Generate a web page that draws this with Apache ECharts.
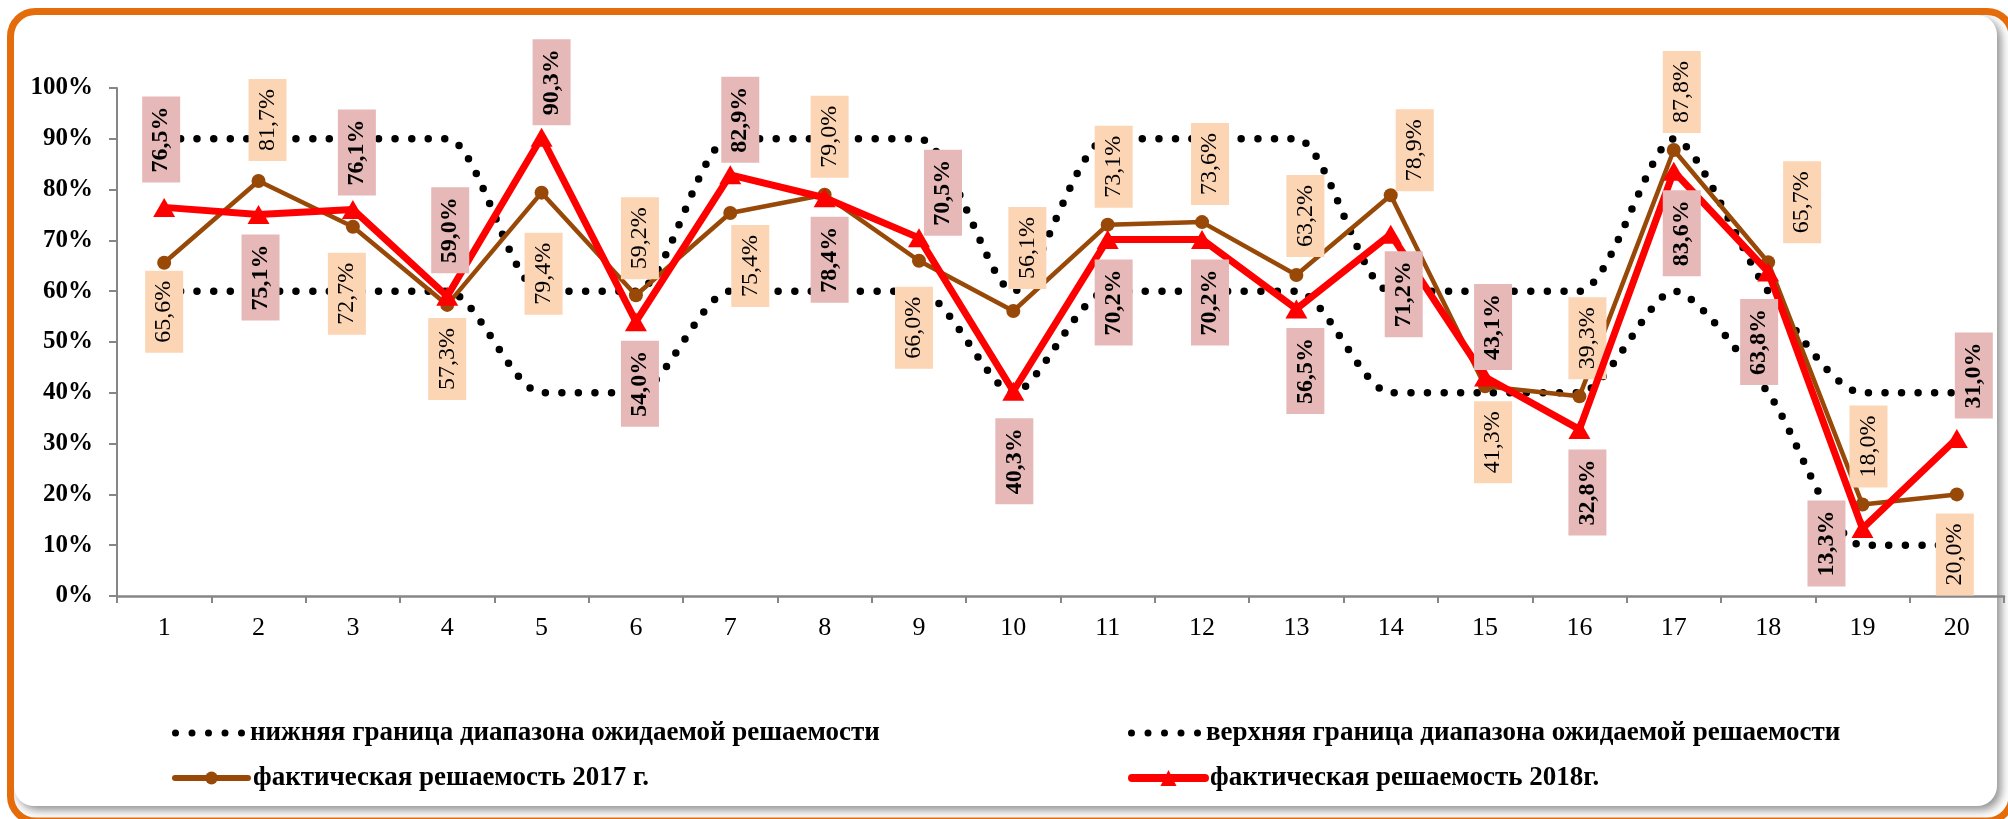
<!DOCTYPE html>
<html>
<head>
<meta charset="utf-8">
<script src="https://cdn.jsdelivr.net/npm/echarts@6/dist/echarts.min.js"></script>
<style>
  html, body { margin: 0; padding: 0; background: #ffffff; }
  #chart { width: 2008px; height: 819px; }
</style>
</head>
<body>
<div id="chart"></div>
<script>
// Task numbers along the horizontal axis
const tasks = ['1','2','3','4','5','6','7','8','9','10','11','12','13','14','15','16','17','18','19','20'];

// Expected solvability range, % (lower and upper bounds)
const lowerBound = [60, 60, 60, 60, 40, 40, 60, 60, 60, 40, 60, 60, 60, 40, 40, 40, 60, 40, 10, 10];
const upperBound = [90, 90, 90, 90, 60, 60, 90, 90, 90, 60, 90, 90, 90, 60, 60, 60, 90, 60, 40, 40];

// Actual solvability, %
const solved2017 = [65.6, 81.7, 72.7, 57.3, 79.4, 59.2, 75.4, 79.0, 66.0, 56.1, 73.1, 73.6, 63.2, 78.9, 41.3, 39.3, 87.8, 65.7, 18.0, 20.0];
const solved2018 = [76.5, 75.1, 76.1, 59.0, 90.3, 54.0, 82.9, 78.4, 70.5, 40.3, 70.2, 70.2, 56.5, 71.2, 43.1, 32.8, 83.6, 63.8, 13.3, 31.0];

// Value axis ticks, %
const yMin = 0, yMax = 100, yStep = 10;

// Legend captions
const names = {
  lower: 'нижняя граница диапазона ожидаемой решаемости',
  upper: 'верхняя граница диапазона ожидаемой решаемости',
  y2017: 'фактическая решаемость 2017 г.',
  y2018: 'фактическая решаемость 2018г.'
};

// Placement of each value box: screen shift [right, down] in px of the box centre from its point
const shift2017 = [[0,49],[9,-61],[-6,67],[0,54],[2,81],[4,-57],[20,53],[5,-58],[-5,67],[14,-63],
                   [6,-58],[8,-58],[9,-59],[24,-45],[8,56],[8,-58],[8,-58],[34,-60],[6,-58],[-2,60]];
const shift2018 = [[-3,-68],[2,63],[4,-57],[3,-66],[10,-55],[4,62],[10,-55],[5,62],[24,-45],[1,70],
                   [6,63],[8,63],[9,62],[13,60],[8,-50],[8,63],[8,62],[-9,70],[-36,15],[17,-63]];

const SERIF = '"Liberation Serif", "Times New Roman", serif';
const fmtPct = v => v.toFixed(1).replace('.', ',') + '%';

// Labels are rotated 90deg about the point, so the offset is given in the rotated frame
const rotatedOffset = ([dx, dy]) => [-dy, dx];

function labelledData(values, shifts) {
  return values.map((v, i) => ({ value: v, label: { offset: rotatedOffset(shifts[i]) } }));
}

// Five round dots used as the legend mark of the range lines
function dotsPath() {
  const r = 3.5, step = 16.5;
  let d = '';
  for (let k = 0; k < 5; k++) {
    const cx = r + k * step;
    d += `M${cx - r},4a${r},${r} 0 1,0 ${2 * r},0a${r},${r} 0 1,0 ${-2 * r},0Z`;
  }
  return 'path://' + d;
}

const dotted = { color: '#000000', width: 7.5, type: [0, 16.5], cap: 'round' };

const legendText = { fontFamily: SERIF, fontSize: 27, fontWeight: 'bold', color: '#000000', lineHeight: 30 };

function legendAt(name, left, top, extra) {
  return Object.assign({
    data: [name], left: left, top: top, orient: 'horizontal', padding: 0,
    itemGap: 0, selectedMode: false, textStyle: legendText
  }, extra);
}

const chart = echarts.init(document.getElementById('chart'), null, { renderer: 'canvas' });

const option = {
  backgroundColor: '#ffffff',
  animation: false,
  grid: { left: 117, right: 4, top: 88, bottom: 223, containLabel: false },
  graphic: [
    {
      type: 'rect', z: -10, silent: true,
      shape: { x: 14, y: 15, width: 1983, height: 791, r: 20 },
      style: { fill: '#ffffff', shadowBlur: 10, shadowOffsetX: 4, shadowOffsetY: 4, shadowColor: 'rgba(0,0,0,0.45)' }
    },
    {
      type: 'rect', z: 100, silent: true,
      shape: { x: 10.5, y: 11.5, width: 2001.5, height: 809.5, r: 25 },
      style: { fill: 'none', stroke: '#E46C0A', lineWidth: 7 }
    }
  ],
  legend: [
    legendAt(names.lower, 172, 718, { itemWidth: 73, itemHeight: 7, data: [{ name: names.lower, icon: dotsPath() }] }),
    legendAt(names.upper, 1128, 718, { itemWidth: 73, itemHeight: 7, data: [{ name: names.upper, icon: dotsPath() }] }),
    legendAt(names.y2017, 172, 763, { itemWidth: 73, itemHeight: 16, lineStyle: { width: 6, cap: 'round' } }),
    legendAt(names.y2018, 1128, 763, { itemWidth: 73, itemHeight: 20, lineStyle: { width: 8, cap: 'round' } })
  ],
  xAxis: {
    type: 'category',
    data: tasks,
    boundaryGap: true,
    axisLine: { lineStyle: { color: '#868686', width: 2.5 } },
    axisTick: { show: true, length: 7, interval: 0, lineStyle: { color: '#868686', width: 2 } },
    axisLabel: { fontFamily: SERIF, fontSize: 26, color: '#000000', margin: 19, interval: 0 },
    splitLine: { show: false }
  },
  yAxis: {
    type: 'value',
    min: yMin, max: yMax, interval: yStep,
    axisLine: { show: true, lineStyle: { color: '#868686', width: 2 } },
    axisTick: { show: true, length: 8, lineStyle: { color: '#868686', width: 2 } },
    axisLabel: { fontFamily: SERIF, fontSize: 25, fontWeight: 'bold', color: '#000000', margin: 24, formatter: '{value}%' },
    splitLine: { show: false }
  },
  series: [
    {
      name: names.lower, type: 'line', data: lowerBound, z: 2,
      smooth: 0.25, symbol: 'none', silent: true,
      itemStyle: { color: '#000000' }, lineStyle: dotted
    },
    {
      name: names.upper, type: 'line', data: upperBound, z: 2,
      smooth: 0.25, symbol: 'none', silent: true,
      itemStyle: { color: '#000000' }, lineStyle: dotted
    },
    {
      name: names.y2017, type: 'line', data: labelledData(solved2017, shift2017), z: 3,
      symbol: 'circle', symbolSize: 14,
      itemStyle: { color: '#984807' },
      lineStyle: { color: '#984807', width: 4.5 },
      label: {
        show: true, position: 'inside', rotate: 90,
        formatter: p => fmtPct(p.value),
        fontFamily: SERIF, fontSize: 24, fontWeight: 'normal', color: '#000000',
        lineHeight: 24, backgroundColor: '#FCD5B5', padding: [7, 10],
        textBorderWidth: 0
      }
    },
    {
      name: names.y2018, type: 'line', data: labelledData(solved2018, shift2018), z: 4,
      symbol: 'triangle', symbolSize: [22, 19],
      itemStyle: { color: '#FF0000' },
      lineStyle: { color: '#FF0000', width: 7 },
      label: {
        show: true, position: 'inside', rotate: 90,
        formatter: p => fmtPct(p.value),
        fontFamily: SERIF, fontSize: 24, fontWeight: 'bold', color: '#000000',
        lineHeight: 24, backgroundColor: '#E6B9B8', padding: [7, 10],
        textBorderWidth: 0
      }
    }
  ]
};

chart.setOption(option);
</script>
</body>
</html>
